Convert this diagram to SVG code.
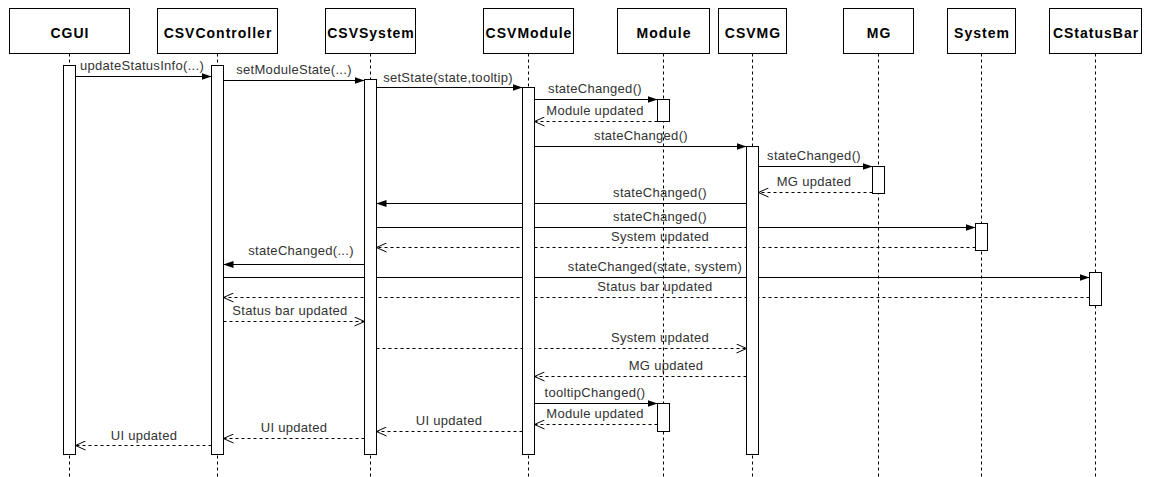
<svg xmlns="http://www.w3.org/2000/svg" width="1149" height="477" viewBox="0 0 1149 477">
  <defs>
    <style>
      .head { fill: #ffffff; stroke: #000000; stroke-width: 1; }
      .head-text { font-family: "Liberation Sans", Arial, Helvetica, sans-serif; font-size: 14px; font-weight: bold; letter-spacing: 1px; fill: #000000; text-anchor: middle; }
      .life { stroke: #000000; stroke-width: 1; stroke-dasharray: 3 3; fill: none; }
      .act { fill: #ffffff; stroke: #000000; stroke-width: 1; }
      .call { stroke: #000000; stroke-width: 1; fill: none; marker-end: url(#solid); }
      .ret { stroke: #000000; stroke-width: 1; fill: none; stroke-dasharray: 3 3; marker-end: url(#open); }
      .lbl { font-family: "Liberation Sans", Arial, Helvetica, sans-serif; font-size: 13px; letter-spacing: 0.3px; fill: #333333; text-anchor: middle; }
    </style>
    <marker id="solid" viewBox="0 0 10 8" refX="10" refY="4" markerWidth="10" markerHeight="8" orient="auto" markerUnits="userSpaceOnUse">
      <path d="M0,0.5 L10,4 L0,7.5 Z" fill="#000000" stroke="none"/>
    </marker>
    <marker id="open" viewBox="0 0 12 10" refX="11" refY="5" markerWidth="12" markerHeight="10" orient="auto" markerUnits="userSpaceOnUse">
      <path d="M1,0.5 L11,5 L1,9.5" fill="none" stroke="#000000" stroke-width="1" stroke-dasharray="none"/>
    </marker>
  </defs>

  <rect x="0" y="0" width="1149" height="477" fill="#ffffff"/>

  <!-- messages between participants -->
  <g id="connectors">
    <line class="call" x1="75.5" y1="76.5" x2="211.5" y2="76.5"/>
    <text class="lbl" x="142" y="70">updateStatusInfo(...)</text>

    <line class="call" x1="223.5" y1="80.5" x2="364.5" y2="80.5"/>
    <text class="lbl" x="294" y="74">setModuleState(...)</text>

    <line class="call" x1="376.5" y1="87.5" x2="522.5" y2="87.5"/>
    <text class="lbl" x="448" y="82">setState(state,tooltip)</text>

    <line class="call" x1="534.5" y1="99.5" x2="657.5" y2="99.5"/>
    <text class="lbl" x="595" y="93">stateChanged()</text>

    <line class="ret" x1="657.5" y1="121.5" x2="534.5" y2="121.5"/>
    <text class="lbl" x="595" y="115">Module updated</text>

    <line class="call" x1="534.5" y1="146.5" x2="746.5" y2="146.5"/>
    <text class="lbl" x="641" y="140">stateChanged()</text>

    <line class="call" x1="758.5" y1="166.5" x2="872.5" y2="166.5"/>
    <text class="lbl" x="814" y="160">stateChanged()</text>

    <line class="ret" x1="872.5" y1="192.5" x2="758.5" y2="192.5"/>
    <text class="lbl" x="814" y="186">MG updated</text>

    <line class="call" x1="746.5" y1="203.5" x2="376.5" y2="203.5"/>
    <text class="lbl" x="660" y="197">stateChanged()</text>

    <line class="call" x1="376.5" y1="227.5" x2="975.5" y2="227.5"/>
    <text class="lbl" x="660" y="221">stateChanged()</text>

    <line class="ret" x1="975.5" y1="247.5" x2="376.5" y2="247.5"/>
    <text class="lbl" x="660" y="241">System updated</text>

    <line class="call" x1="364.5" y1="264.5" x2="223.5" y2="264.5"/>
    <text class="lbl" x="301" y="255">stateChanged(...)</text>

    <line class="call" x1="223.5" y1="277.5" x2="1089.5" y2="277.5"/>
    <text class="lbl" x="655" y="271">stateChanged(state, system)</text>

    <line class="ret" x1="1089.5" y1="297.5" x2="223.5" y2="297.5"/>
    <text class="lbl" x="655" y="291">Status bar updated</text>

    <line class="ret" x1="223.5" y1="321.5" x2="364.5" y2="321.5"/>
    <text class="lbl" x="290" y="315">Status bar updated</text>

    <line class="ret" x1="376.5" y1="348.5" x2="746.5" y2="348.5"/>
    <text class="lbl" x="660" y="342">System updated</text>

    <line class="ret" x1="746.5" y1="376.5" x2="534.5" y2="376.5"/>
    <text class="lbl" x="666" y="370">MG updated</text>

    <line class="call" x1="534.5" y1="403.5" x2="657.5" y2="403.5"/>
    <text class="lbl" x="595" y="397">tooltipChanged()</text>

    <line class="ret" x1="657.5" y1="424.5" x2="534.5" y2="424.5"/>
    <text class="lbl" x="595" y="418">Module updated</text>

    <line class="ret" x1="522.5" y1="431.5" x2="376.5" y2="431.5"/>
    <text class="lbl" x="449" y="425">UI updated</text>

    <line class="ret" x1="364.5" y1="438.5" x2="223.5" y2="438.5"/>
    <text class="lbl" x="294" y="432">UI updated</text>

    <line class="ret" x1="211.5" y1="445.5" x2="75.5" y2="445.5"/>
    <text class="lbl" x="144" y="440">UI updated</text>
  </g>

  <!-- participants: header, lifeline, activation bars -->
  <g id="CGUI">
    <rect class="head" x="9.5" y="8.5" width="120" height="45"/>
    <text class="head-text" x="70" y="37.5">CGUI</text>
    <line class="life" x1="69.5" y1="53.5" x2="69.5" y2="477"/>
    <rect class="act" x="63.5" y="65.5" width="12" height="389"/>
  </g>

  <g id="CSVController">
    <rect class="head" x="157.5" y="8.5" width="120" height="45"/>
    <text class="head-text" x="218" y="37.5">CSVController</text>
    <line class="life" x1="217.5" y1="53.5" x2="217.5" y2="477"/>
    <rect class="act" x="211.5" y="65.5" width="12" height="389"/>
  </g>

  <g id="CSVSystem">
    <rect class="head" x="325.5" y="8.5" width="90" height="45"/>
    <text class="head-text" x="371" y="37.5">CSVSystem</text>
    <line class="life" x1="370.5" y1="53.5" x2="370.5" y2="477"/>
    <rect class="act" x="364.5" y="79.5" width="12" height="375"/>
  </g>

  <g id="CSVModule">
    <rect class="head" x="483.5" y="8.5" width="90" height="45"/>
    <text class="head-text" x="529" y="37.5">CSVModule</text>
    <line class="life" x1="528.5" y1="53.5" x2="528.5" y2="477"/>
    <rect class="act" x="522.5" y="87.5" width="12" height="367"/>
  </g>

  <g id="Module">
    <rect class="head" x="617.5" y="8.5" width="92" height="45"/>
    <text class="head-text" x="664" y="37.5">Module</text>
    <line class="life" x1="663.5" y1="53.5" x2="663.5" y2="477"/>
    <rect class="act" x="657.5" y="99.5" width="12" height="22"/>
    <rect class="act" x="657.5" y="403.5" width="12" height="28"/>
  </g>

  <g id="CSVMG">
    <rect class="head" x="718.5" y="8.5" width="68" height="45"/>
    <text class="head-text" x="753" y="37.5">CSVMG</text>
    <line class="life" x1="752.5" y1="53.5" x2="752.5" y2="477"/>
    <rect class="act" x="746.5" y="146.5" width="12" height="308"/>
  </g>

  <g id="MG">
    <rect class="head" x="843.5" y="8.5" width="70" height="45"/>
    <text class="head-text" x="879" y="37.5">MG</text>
    <line class="life" x1="878.5" y1="53.5" x2="878.5" y2="477"/>
    <rect class="act" x="872.5" y="166.5" width="12" height="27"/>
  </g>

  <g id="System">
    <rect class="head" x="947.5" y="8.5" width="68" height="45"/>
    <text class="head-text" x="982" y="37.5">System</text>
    <line class="life" x1="981.5" y1="53.5" x2="981.5" y2="477"/>
    <rect class="act" x="975.5" y="223.5" width="12" height="27"/>
  </g>

  <g id="CStatusBar">
    <rect class="head" x="1049.5" y="8.5" width="92" height="45"/>
    <text class="head-text" x="1096" y="37.5">CStatusBar</text>
    <line class="life" x1="1095.5" y1="53.5" x2="1095.5" y2="477"/>
    <rect class="act" x="1089.5" y="272.5" width="12" height="33"/>
  </g>
</svg>
